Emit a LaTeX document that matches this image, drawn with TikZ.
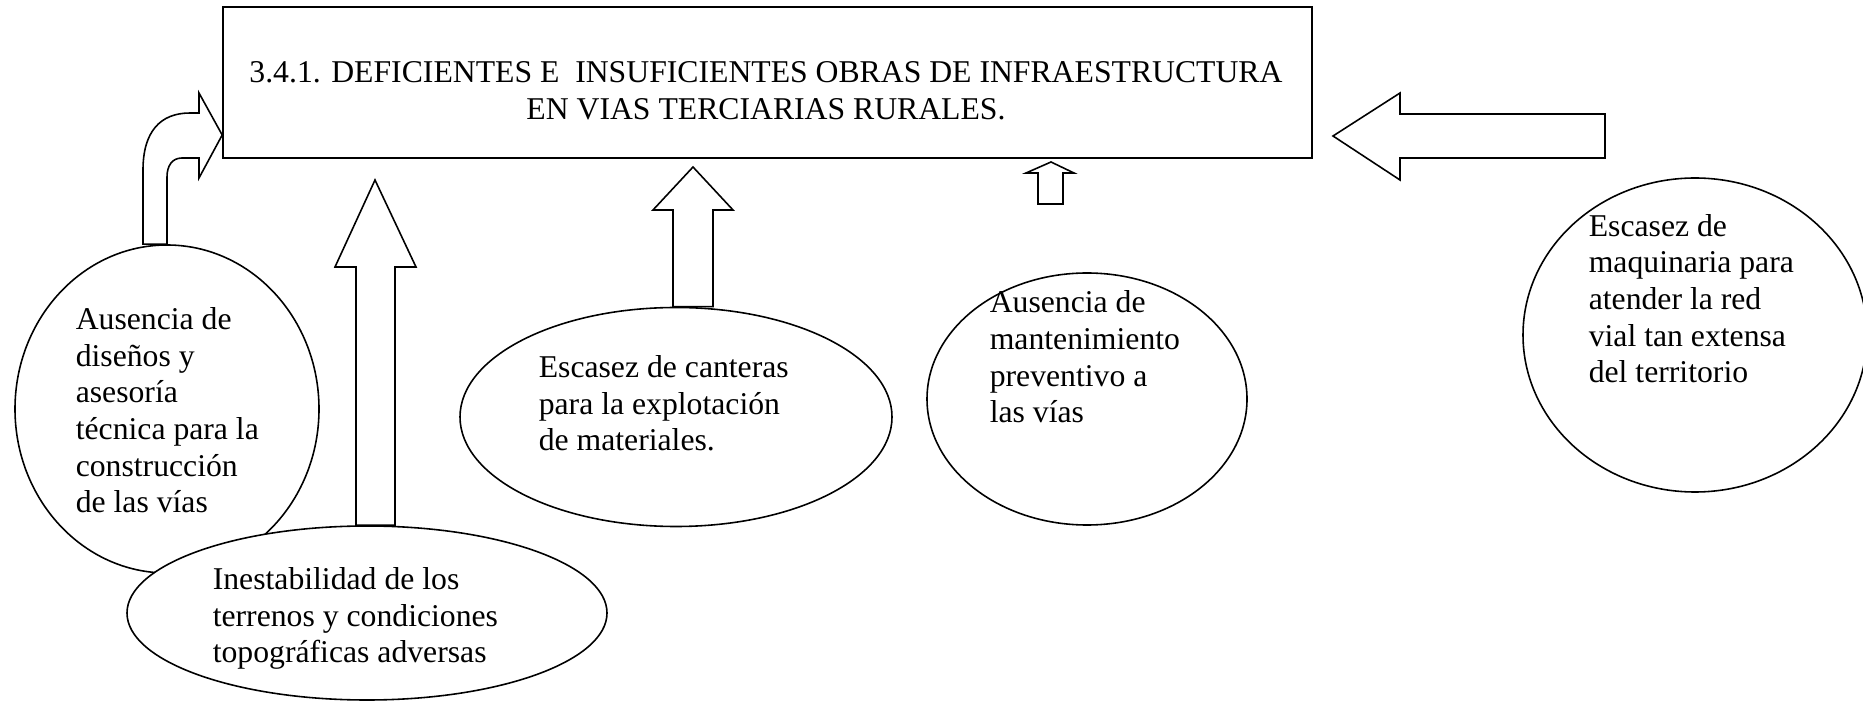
\documentclass[tikz,border=0pt]{standalone}
\usepackage{fontspec}
\setmainfont{Liberation Serif}
\usetikzlibrary{shapes.geometric}
\newdimen\px \px=0.3785pt

\begin{document}
\begin{tikzpicture}[x=0.3785pt, y=-0.3785pt, line width=0.6pt,
    causa/.style={ellipse, draw, fill=white, inner sep=0pt},
    texto/.style={align=left, anchor=base west, inner sep=0pt, font={\fontsize{12}{13.9}\selectfont}},
    flecha/.style={draw, fill=white, line join=miter}]

    \useasboundingbox (0,0) rectangle (1863,701);

    %Nodes (text nodes are placed at the baseline of their last line)
    \node[draw, inner sep=0pt, minimum width=1089*\px, minimum height=151*\px](problema) at (767.5,82.5){};
    \node[texto, align=center, anchor=base](titulo) at (766,119.5){3.4.1. DEFICIENTES E \ INSUFICIENTES OBRAS DE INFRAESTRUCTURA\\EN VIAS TERCIARIAS RURALES.};

    \node[causa, minimum width=304*\px, minimum height=328*\px](diseno) at (167,409){};
    \node[texto](t_diseno) at (75,513){Ausencia de\\diseños y\\asesoría\\técnica para la\\construcción\\de las vías};
    \node[causa, minimum width=480*\px, minimum height=174*\px](terreno) at (367,613){};
    \node[texto](t_terreno) at (212,663){Inestabilidad de los\\terrenos y condiciones\\topográficas adversas};
    \node[causa, minimum width=432*\px, minimum height=219*\px](cantera) at (676,417){};
    \node[texto](t_cantera) at (538,451){Escasez de canteras\\para la explotación\\de materiales.};
    \node[causa, minimum width=320*\px, minimum height=252*\px](manten) at (1087,399){};
    \node[texto](t_manten) at (989,423){Ausencia de\\mantenimiento\\preventivo a\\las vías};
    \node[causa, minimum width=344*\px, minimum height=314*\px](maquina) at (1695,335){};
    \node[texto](t_maquina) at (1588,383){Escasez de\\maquinaria para\\atender la red\\vial tan extensa\\del territorio};

    %Arrows
    \draw[flecha] (143,0 |- diseno.north) -- (143,170) .. controls (143,132) and (160,113) .. (190,113) -- (199,113) -- (199,93) -- (problema.west |- 0,135) -- (199,178) -- (199,158) -- (182,158) .. controls (172,158) and (167,166) .. (167,177) -- (167,0 |- diseno.north) -- cycle;
    \draw[flecha] (356,0 |- terreno.north) -- (356,267) -- (335,267) -- (375,180) -- (416,267) -- (395,267) -- (395,0 |- terreno.north) -- cycle;
    \draw[flecha] (673,0 |- cantera.north) -- (673,210) -- (653,210) -- (693,167) -- (733,210) -- (713,210) -- (713,0 |- cantera.north) -- cycle;
    \draw[flecha] (1038,204) -- (1038,173) -- (1026,173) -- (1051,162) -- (1074,173) -- (1063,173) -- (1063,204) -- cycle;
    \draw[flecha] (1605,114) -- (1400,114) -- (1400,93) -- (1333,136) -- (1400,180) -- (1400,158) -- (1605,158) -- cycle;

\end{tikzpicture}
\end{document}
